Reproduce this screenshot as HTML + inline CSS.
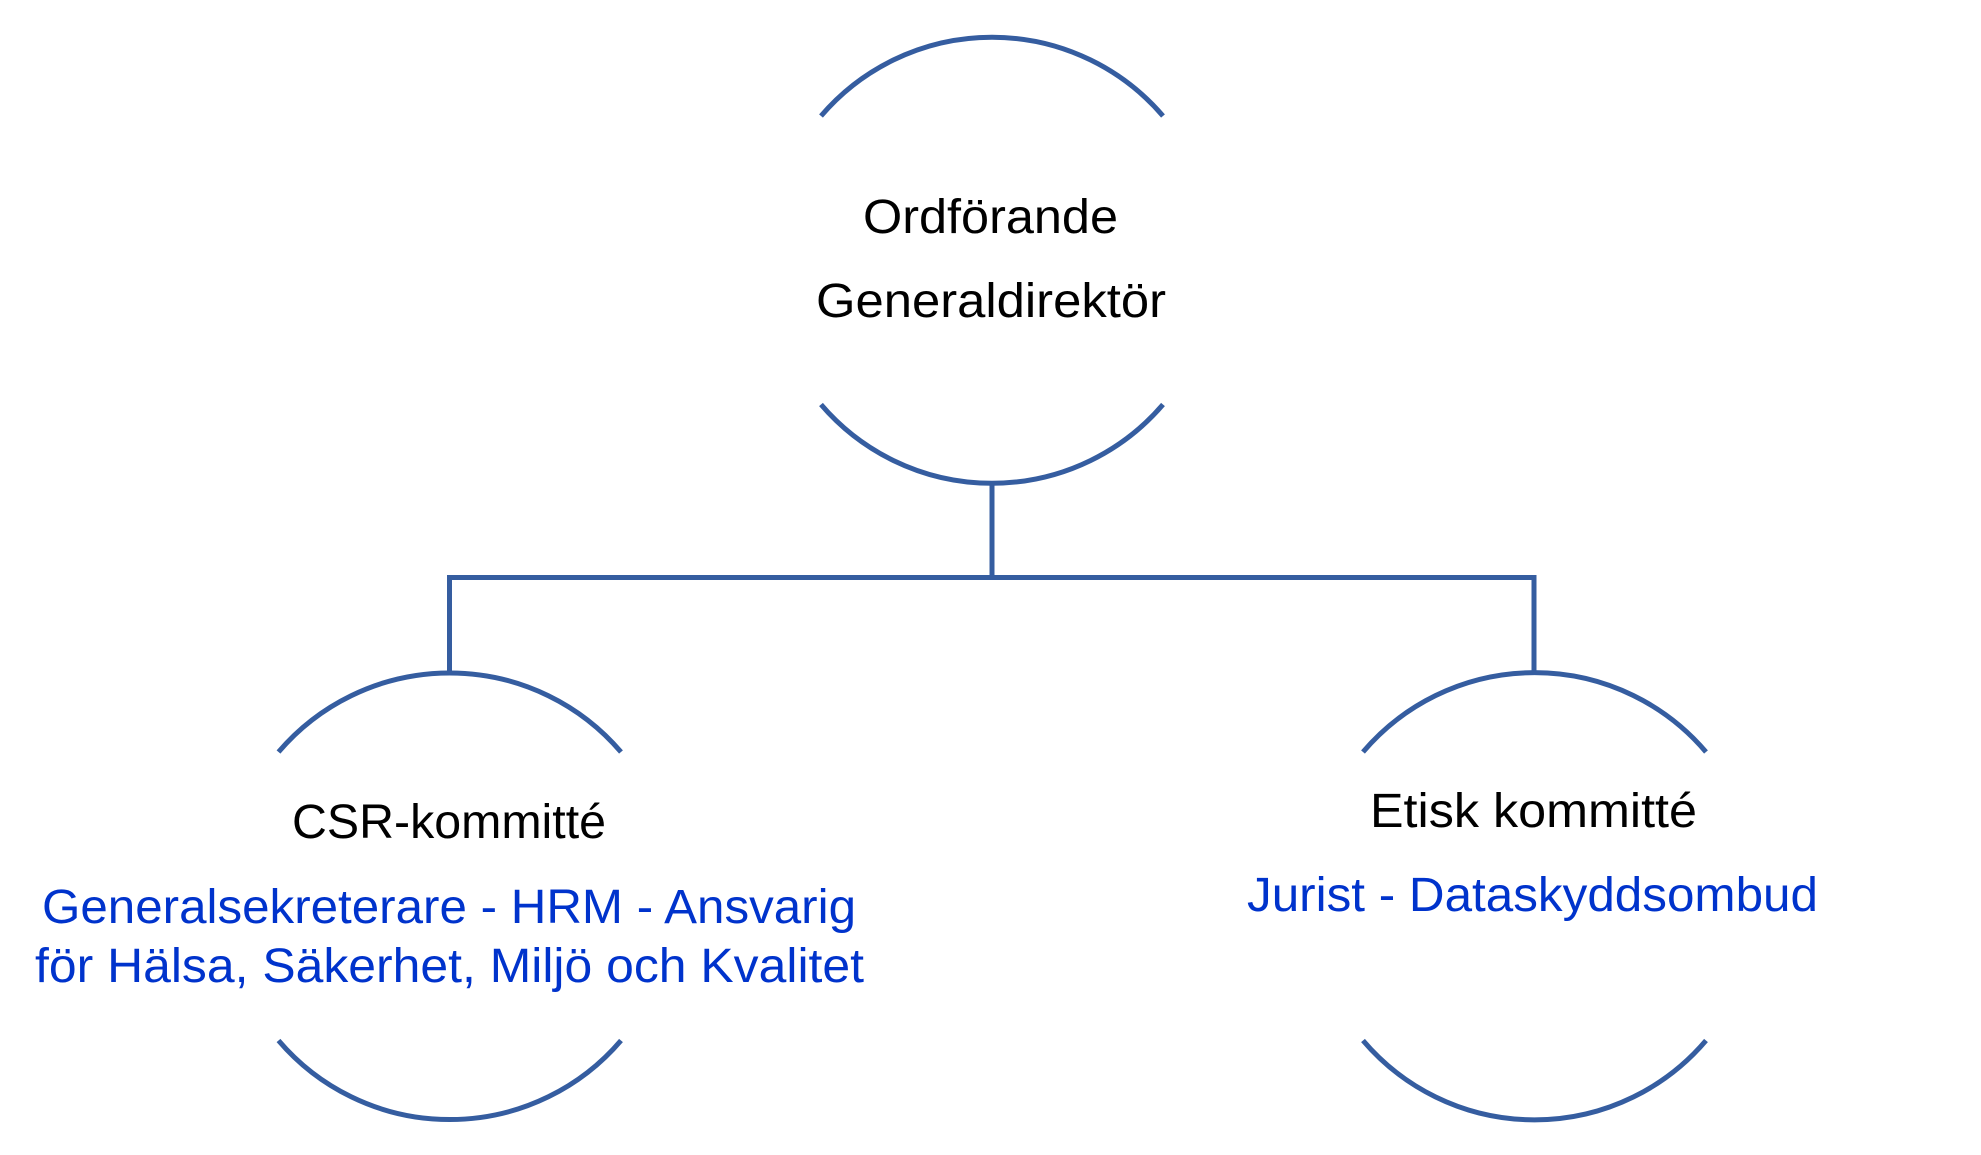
<!DOCTYPE html>
<html lang="sv">
<head>
<meta charset="utf-8">
<title>Organisation</title>
<style>
html,body{margin:0;padding:0;background:#fff;width:1981px;height:1155px;overflow:hidden}
svg{display:block}
text{font-family:"Liberation Sans",sans-serif;font-size:48px}
.k{fill:#000}
.b{fill:#0033cc}
.l{fill:none;stroke:#355da0;stroke-width:5}
</style>
</head>
<body>
<svg width="1981" height="1155" viewBox="0 0 1981 1155" xmlns="http://www.w3.org/2000/svg">
<rect width="1981" height="1155" fill="#fff"/>
<path class="l" d="M992 482V577.5M449.5 673V577.5H1534V673"/>
<path class="l" d="M821 116A225 225 0 0 1 1163 116"/>
<path class="l" d="M821 404.500A225 225 0 0 0 1163 404.500"/>
<path class="l" d="M278.500 752A225 225 0 0 1 621 752"/>
<path class="l" d="M278.500 1040.500A225 225 0 0 0 621 1040.500"/>
<path class="l" d="M1363 752A225 225 0 0 1 1706 752"/>
<path class="l" d="M1363 1040.500A225 225 0 0 0 1706 1040.500"/>
<text class="k" x="863" y="233" textLength="255" lengthAdjust="spacingAndGlyphs">Ordförande</text>
<text class="k" x="816" y="317" textLength="350" lengthAdjust="spacingAndGlyphs">Generaldirektör</text>
<text class="k" x="292" y="838" textLength="314" lengthAdjust="spacingAndGlyphs">CSR-kommitté</text>
<text class="b" x="42" y="923" textLength="814" lengthAdjust="spacingAndGlyphs">Generalsekreterare - HRM - Ansvarig</text>
<text class="b" x="35" y="982" textLength="829" lengthAdjust="spacingAndGlyphs">för Hälsa, Säkerhet, Miljö och Kvalitet</text>
<text class="k" x="1370" y="827" textLength="327" lengthAdjust="spacingAndGlyphs">Etisk kommitté</text>
<text class="b" x="1247" y="911" textLength="571" lengthAdjust="spacingAndGlyphs">Jurist - Dataskyddsombud</text>
</svg>
</body>
</html>
